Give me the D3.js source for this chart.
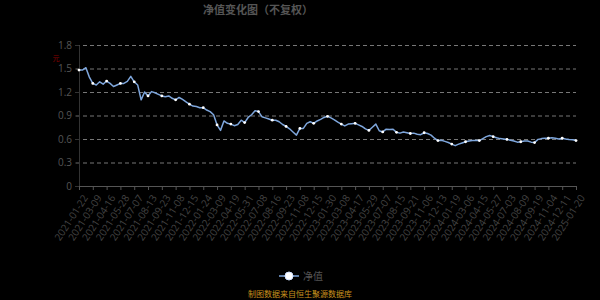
<!DOCTYPE html>
<html>
<head>
<meta charset="utf-8">
<script src="https://cdn.jsdelivr.net/npm/d3@7"></script>
<style>
  body { margin: 0; background: #000; }
  svg { display: block; font-family: "Noto Sans CJK SC", "Noto Sans", sans-serif; }
</style>
</head>
<body>
<svg id="chart"></svg>
<script>
// tick labels, one every 4 points
const dateLabels = ["2021-01-22","2021-03-09","2021-04-16","2021-05-28","2021-07-07","2021-08-13","2021-09-23","2021-11-08","2021-12-15",
  "2022-01-24","2022-03-09","2022-04-19","2022-05-31","2022-07-08","2022-08-16","2022-09-23","2022-11-08","2022-12-15",
  "2023-01-30","2023-03-08","2023-04-17","2023-05-29","2023-07-07","2023-08-15","2023-09-21","2023-11-06","2023-12-13",
  "2024-01-19","2024-03-06","2024-04-15","2024-05-27","2024-07-03","2024-08-09","2024-09-19","2024-11-04","2024-12-11","2025-01-20"];
const step = 4;

const navValues = [1.48,1.48,1.51,1.39,1.31,1.29,1.33,1.30,1.34,1.31,1.27,1.29,1.31,1.31,1.335,1.40,1.33,1.29,1.10,1.20,
  1.15,1.205,1.19,1.17,1.15,1.14,1.15,1.12,1.10,1.13,1.105,1.075,1.045,1.02,1.015,1.00,1.00,0.97,0.95,0.91,
  0.78,0.71,0.83,0.80,0.79,0.77,0.785,0.84,0.81,0.875,0.91,0.96,0.95,0.885,0.87,0.855,0.84,0.84,0.82,0.785,
  0.76,0.73,0.69,0.65,0.735,0.735,0.80,0.82,0.80,0.83,0.85,0.875,0.89,0.87,0.845,0.815,0.79,0.767,0.79,0.795,
  0.80,0.78,0.76,0.73,0.71,0.75,0.79,0.705,0.69,0.725,0.72,0.725,0.685,0.675,0.69,0.68,0.67,0.675,0.66,0.655,
  0.68,0.67,0.65,0.61,0.58,0.585,0.57,0.555,0.535,0.515,0.535,0.55,0.565,0.575,0.58,0.58,0.58,0.605,0.63,0.645,
  0.63,0.615,0.605,0.60,0.595,0.585,0.575,0.56,0.565,0.575,0.575,0.56,0.555,0.595,0.605,0.61,0.61,0.615,0.61,0.60,
  0.61,0.60,0.593,0.59,0.58];

const yTicks = [0, 0.3, 0.6, 0.9, 1.2, 1.5, 1.8];

const width = 600, height = 300;
const margin = {top: 45, right: 24, bottom: 114, left: 79};

const svg = d3.select("#chart")
    .attr("width", width)
    .attr("height", height);

svg.append("rect").attr("width", width).attr("height", height).attr("fill", "#000");

const x = d3.scaleLinear()
    .domain([0, navValues.length - 1])
    .range([margin.left, width - margin.right]);

const y = d3.scaleLinear()
    .domain([0, 1.8])
    .range([height - margin.bottom, margin.top]);

// title
svg.append("text")
    .attr("x", 258)
    .attr("y", 14)
    .attr("text-anchor", "middle")
    .attr("font-size", "11px")
    .attr("font-weight", "bold")
    .attr("fill", "#555")
    .text("净值变化图（不复权）");

// unit
svg.append("text")
    .attr("x", 56)
    .attr("y", 61)
    .attr("text-anchor", "middle")
    .attr("font-size", "7px")
    .attr("fill", "#8b0000")
    .text("元");

// grid
svg.append("g")
    .selectAll("line")
    .data(yTicks.filter(d => d > 0))
    .join("line")
    .attr("x1", margin.left - 3)
    .attr("x2", width - margin.right)
    .attr("y1", d => y(d) + 0.5)
    .attr("y2", d => y(d) + 0.5)
    .attr("stroke", "#777")
    .attr("stroke-dasharray", "4,3");

// y axis
const yAxis = svg.append("g")
    .attr("transform", `translate(${margin.left},0)`)
    .call(d3.axisLeft(y).tickValues(yTicks).tickSize(4).tickFormat(d => d));
yAxis.select(".domain").attr("stroke", "#333");
yAxis.selectAll(".tick line").attr("stroke", "#333");
yAxis.selectAll(".tick text").attr("fill", "#555").attr("font-size", "10px")
    .attr("font-family", "'Open Sans', sans-serif");

// x axis
const tickIdx = dateLabels.map((d, i) => i * step);
const xAxis = svg.append("g")
    .attr("transform", `translate(0,${height - margin.bottom})`)
    .call(d3.axisBottom(x).tickValues(tickIdx).tickSize(4).tickFormat(d => dateLabels[d / step]));
xAxis.select(".domain").attr("stroke", "#555");
xAxis.selectAll(".tick line").attr("stroke", "#555");
xAxis.selectAll(".tick text")
    .attr("fill", "#444")
    .attr("font-size", "10px")
    .attr("font-family", "'Open Sans', sans-serif")
    .attr("text-anchor", "end")
    .attr("dx", "0")
    .attr("dy", "0")
    .attr("transform", "translate(3,8) rotate(-57)");

// line
const line = d3.line()
    .x((d, i) => x(i))
    .y(d => y(d));

svg.append("path")
    .datum(navValues)
    .attr("d", line)
    .attr("fill", "none")
    .attr("stroke", "#7ea6dc")
    .attr("stroke-width", 1.5)
    .attr("stroke-linejoin", "round");

svg.append("g")
    .selectAll("circle")
    .data(navValues.map((v, i) => [i, v]).filter(d => d[0] % step === 0))
    .join("circle")
    .attr("cx", d => x(d[0]))
    .attr("cy", d => y(d[1]))
    .attr("r", 1.4)
    .attr("fill", "#fff");

// legend
const lg = svg.append("g").attr("transform", "translate(289,276)");
lg.append("line").attr("x1", -10).attr("x2", 10).attr("stroke", "#7ea6dc").attr("stroke-width", 1.5);
lg.append("circle").attr("r", 4).attr("fill", "#fff").attr("stroke", "#cfe0ff").attr("stroke-width", 1);
lg.append("text").attr("x", 14).attr("y", 4).attr("font-size", "10px").attr("fill", "#555").text("净值");

// source
svg.append("text")
    .attr("x", 300)
    .attr("y", 297)
    .attr("text-anchor", "middle")
    .attr("font-size", "8px")
    .attr("fill", "#c8921e")
    .text("制图数据来自恒生聚源数据库");
</script>
</body>
</html>
